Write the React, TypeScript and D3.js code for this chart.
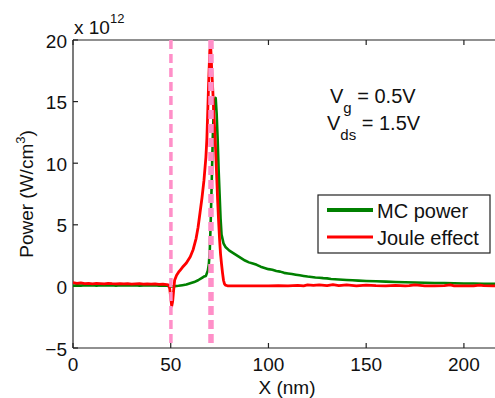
import React from "react";
import * as d3 from "d3";

const xTicks = [0, 50, 100, 150, 200];
const yTicks = [-5, 0, 5, 10, 15, 20];

const mcX = [0,2,4,6,8,10,12,14,16,18,20,22,24,26,28,30,32,34,36,38,40,42,44,46,48,50,52,54,56,58,60,62,64,66,67,68,69,69.5,70,70.5,71,71.5,72,72.5,73,73.5,74,74.5,75,75.5,76,77,78,80,82,84,86,88,90,92,94,96,98,100,102,104,106,108,110,112,114,116,118,120,122,124,126,128,130,132,134,136,138,140,143,146,150,155,160,165,170,175,180,185,190,195,200,205,210,215,220];
const mcY = [0.05,0.08,0.06,0.1,0.07,0.09,0.06,0.1,0.08,0.07,0.1,0.06,0.09,0.08,0.1,0.07,0.09,0.06,0.08,0.1,0.07,0.09,0.06,0.08,0.05,0.0,0.02,0.05,0.1,0.15,0.25,0.35,0.5,0.7,0.8,0.85,1.3,1.8,3.0,5.5,8.6,12,14.3,15,15.3,14,12,9.5,7.5,5.5,4.2,3.5,3.2,2.9,2.7,2.5,2.3,2.1,1.95,1.85,1.75,1.6,1.5,1.4,1.35,1.25,1.2,1.1,1.05,1.0,0.95,0.9,0.85,0.8,0.76,0.72,0.7,0.67,0.65,0.6,0.58,0.56,0.54,0.52,0.5,0.47,0.44,0.42,0.39,0.36,0.34,0.32,0.3,0.28,0.27,0.26,0.24,0.23,0.22,0.21,0.2];

const jouleX = [0,2,4,6,8,10,12,14,16,18,20,22,24,26,28,30,32,34,36,38,40,42,44,46,48,49,49.5,50,50.5,51,51.5,52,53,54,55,56,58,60,61.5,63,64,65,66,67,68,68.5,69,69.5,70,70.5,71,71.5,72,72.5,73,73.5,74,74.5,75,75.5,76,76.5,77,77.5,78,79,80,85,90,95,100,105,110,115,118,120,123,126,130,133,136,140,145,150,155,160,165,170,172,175,180,185,190,193,195,200,205,208,210,215,220];
const jouleY = [0.3,0.25,0.28,0.22,0.25,0.2,0.24,0.22,0.2,0.25,0.22,0.2,0.23,0.2,0.22,0.18,0.2,0.22,0.19,0.2,0.18,0.2,0.17,0.18,0.15,0.1,-0.2,-0.9,-1.6,-1.2,-0.3,0.5,0.9,1.15,1.35,1.55,1.9,2.4,3.0,3.9,4.8,6.0,7.2,8.6,10.5,12,14.5,17,19.2,19.3,17.5,16,14.2,12.7,11,9,7,5.3,3.8,2.6,1.8,1.1,0.5,0.2,0.1,0.05,0.05,0.05,0.04,0.05,0.05,0.06,0.05,0.08,0.05,0.12,0.08,0.13,0.06,0.14,0.07,0.12,0.05,0.1,0.06,0.05,0.08,0.04,0.06,0.12,0.05,0.04,0.06,0.12,0.05,0.04,0.05,0.1,0.06,0.04,0.05];

const vLines = [50.1, 70.6];

export default function App() {
  const W = 495, H = 398;
  const x = d3.scaleLinear().domain([0, 220]).range([73, 503]);
  const y = d3.scaleLinear().domain([-5, 20]).range([348, 40]);
  const mk = (xs: number[], ys: number[]) =>
    d3.line<[number, number]>().x(d => x(d[0])).y(d => y(d[1]))(xs.map((v, i) => [v, ys[i]] as [number, number])) || "";
  const font = "Arial, 'Liberation Sans', Helvetica, sans-serif";
  const fs = 19;
  const fl = 20;
  const pink = "#ff8fc8";
  return (
    <svg width={W} height={H} style={{ position: "absolute", left: 0, top: 0, background: "#fff" }} fontFamily={font}>
      <defs>
        <clipPath id="plotclip">
          <rect x={73} y={40} width={430} height={308} />
        </clipPath>
      </defs>
      <rect x={0} y={0} width={W} height={H} fill="#fff" />
      <line x1={73} y1={40} x2={503} y2={40} stroke="#222" strokeWidth={1.2} />
      <line x1={73} y1={348} x2={503} y2={348} stroke="#222" strokeWidth={1.2} />
      <line x1={73} y1={40} x2={73} y2={348} stroke="#222" strokeWidth={1.2} />
      {xTicks.map(t => (
        <g key={"xt" + t}>
          <line x1={x(t)} x2={x(t)} y1={348} y2={343} stroke="#222" strokeWidth={1.2} />
          <line x1={x(t)} x2={x(t)} y1={40} y2={45} stroke="#222" strokeWidth={1.2} />
          <text x={x(t)} y={371} fontSize={fs} textAnchor="middle" fill="#111">{t}</text>
        </g>
      ))}
      {yTicks.map(t => (
        <g key={"yt" + t}>
          <line x1={73} x2={78} y1={y(t)} y2={y(t)} stroke="#222" strokeWidth={1.2} />
          <text x={67} y={y(t) + 7.5} fontSize={fs} textAnchor="end" fill="#111">{t < 0 ? "\u2212" + Math.abs(t) : t}</text>
        </g>
      ))}
      <text x={74} y={34} fontSize={fs} fill="#111">x 10<tspan fontSize={13} dy={-11}>12</tspan></text>
      <text x={287} y={394} fontSize={fs} textAnchor="middle" fill="#111">X (nm)</text>
      <text transform={`translate(33,194) rotate(-90)`} fontSize={fs} textAnchor="middle" fill="#111">
        Power (W/cm<tspan fontSize={13} dy={-8}>3</tspan><tspan dy={8}>)</tspan>
      </text>
      <g clipPath="url(#plotclip)">
        <path d={mk(mcX, mcY)} fill="none" stroke="#008000" strokeWidth={2.6} strokeLinejoin="round" />
        <path d={mk(jouleX, jouleY)} fill="none" stroke="#ff0000" strokeWidth={2.8} strokeLinejoin="round" />
        <line x1={x(vLines[0])} x2={x(vLines[0])} y1={40} y2={348} stroke={pink} strokeWidth={3.5} strokeDasharray="9,5" />
        <line x1={x(vLines[1])} x2={x(vLines[1])} y1={40} y2={348} stroke={pink} strokeWidth={5.5} strokeDasharray="9,5" />
      </g>
      <text x={330} y={103} fontSize={fl} fill="#111">V<tspan fontSize={15} dy={10}>g</tspan><tspan dy={-10}> = 0.5V</tspan></text>
      <text x={327} y={130} fontSize={fl} fill="#111">V<tspan fontSize={15} dy={10}>ds</tspan><tspan dy={-10}> = 1.5V</tspan></text>
      <rect x={318} y={195} width={172} height={58} fill="#fff" stroke="#222" strokeWidth={1.2} />
      <line x1={327} x2={373} y1={210} y2={210} stroke="#008000" strokeWidth={4} />
      <text x={377} y={218} fontSize={fl} fill="#111">MC power</text>
      <line x1={327} x2={373} y1={237} y2={237} stroke="#ff0000" strokeWidth={3} />
      <text x={377} y={245} fontSize={fl} fill="#111">Joule effect</text>
    </svg>
  );
}
